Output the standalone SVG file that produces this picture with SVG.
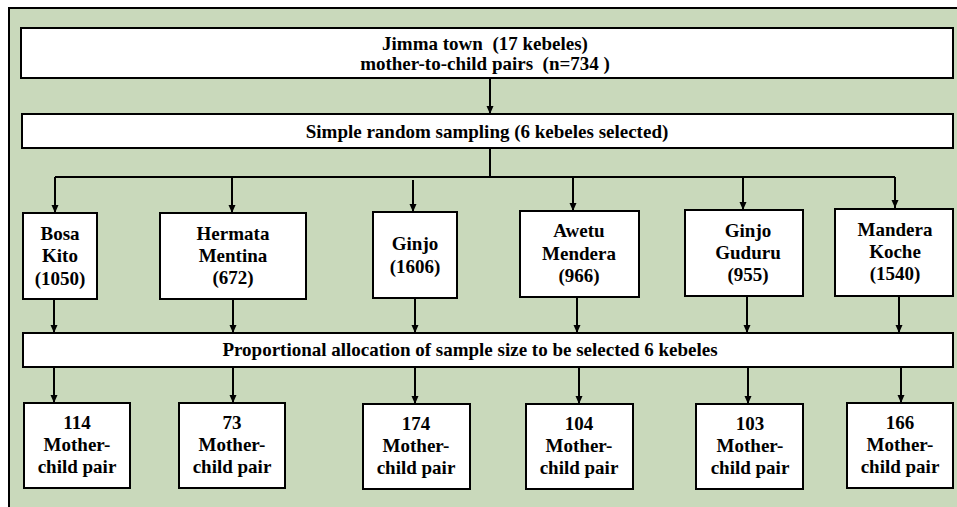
<svg xmlns="http://www.w3.org/2000/svg" width="957" height="507" viewBox="0 0 957 507">
<defs>
<marker id="ah" viewBox="0 0 8 8" refX="8" refY="4" markerWidth="8" markerHeight="8" markerUnits="userSpaceOnUse" orient="auto">
<path d="M0,0.5 L8,4 L0,7.5 Z" fill="#000"/>
</marker>
<style>
.box{fill:#fff;stroke:#000;stroke-width:2}
.t{font-family:"Liberation Serif","Times New Roman",serif;font-weight:bold;font-size:19px;fill:#000;text-anchor:middle}
.c{fill:none;stroke:#000;stroke-width:2}
.a{fill:none;stroke:#000;stroke-width:2;marker-end:url(#ah)}
</style>
</defs>
<rect x="0" y="0" width="957" height="507" fill="#fff"/>
<rect x="9" y="8" width="950" height="505" fill="#c9d9bb"/>
<path d="M9,507 V8 H957" fill="none" stroke="#000" stroke-width="2"/>

<g id="connectors">
<line class="a" x1="490" y1="79" x2="490" y2="114"/>
<path class="c" d="M490,148 V177 M55,177 H895"/>
<line class="a" x1="55" y1="177" x2="55" y2="213"/>
<line class="a" x1="232" y1="177" x2="232" y2="213"/>
<line class="a" x1="413" y1="180" x2="413" y2="212"/>
<line class="a" x1="573" y1="177" x2="573" y2="211"/>
<line class="a" x1="743" y1="177" x2="743" y2="210"/>
<line class="a" x1="895" y1="177" x2="895" y2="208"/>
<line class="a" x1="54" y1="299" x2="54" y2="333"/>
<line class="a" x1="233" y1="299" x2="233" y2="333"/>
<line class="a" x1="415" y1="298" x2="415" y2="333"/>
<line class="a" x1="577" y1="297" x2="577" y2="333"/>
<line class="a" x1="747" y1="296" x2="747" y2="333"/>
<line class="a" x1="899" y1="296" x2="899" y2="333"/>
<line class="a" x1="54" y1="367" x2="54" y2="403"/>
<line class="a" x1="233" y1="367" x2="233" y2="403"/>
<line class="a" x1="415" y1="367" x2="415" y2="404"/>
<line class="a" x1="579" y1="367" x2="579" y2="404"/>
<line class="a" x1="748" y1="367" x2="748" y2="404"/>
<line class="a" x1="901" y1="367" x2="901" y2="403"/>
</g>

<g id="n-top">
<rect class="box" x="21" y="28" width="932" height="50"/>
<text class="t" x="485" y="50">Jimma town&#160; (17 kebeles)</text>
<text class="t" x="485" y="70">mother-to-child pairs&#160; (n=734 )</text>
</g>
<g id="n-srs">
<rect class="box" x="22" y="114" width="931" height="34"/>
<text class="t" x="487" y="138">Simple random sampling (6 kebeles selected)</text>
</g>

<g id="n-bosa">
<rect class="box" x="23" y="213" width="74" height="86"/>
<text class="t" x="60" y="240">Bosa</text>
<text class="t" x="60" y="262">Kito</text>
<text class="t" x="60" y="285">(1050)</text>
</g>
<g id="n-hermata">
<rect class="box" x="160" y="213" width="146" height="86"/>
<text class="t" x="233" y="240">Hermata</text>
<text class="t" x="233" y="262">Mentina</text>
<text class="t" x="233" y="284">(672)</text>
</g>
<g id="n-ginjo">
<rect class="box" x="373" y="212" width="84" height="86"/>
<text class="t" x="415" y="250">Ginjo</text>
<text class="t" x="415" y="273">(1606)</text>
</g>
<g id="n-awetu">
<rect class="box" x="520" y="211" width="119" height="86"/>
<text class="t" x="579" y="237">Awetu</text>
<text class="t" x="579" y="260">Mendera</text>
<text class="t" x="579" y="282">(966)</text>
</g>
<g id="n-ginjoguduru">
<rect class="box" x="685" y="210" width="118" height="86"/>
<text class="t" x="748" y="237">Ginjo</text>
<text class="t" x="748" y="259">Guduru</text>
<text class="t" x="748" y="281">(955)</text>
</g>
<g id="n-mandera">
<rect class="box" x="835" y="209" width="118" height="87"/>
<text class="t" x="895" y="236">Mandera</text>
<text class="t" x="895" y="258">Koche</text>
<text class="t" x="895" y="280">(1540)</text>
</g>

<g id="n-prop">
<rect class="box" x="23" y="333" width="930" height="34"/>
<text class="t" x="470" y="356">Proportional allocation of sample size to be selected 6 kebeles</text>
</g>

<g id="n-114">
<rect class="box" x="24" y="403" width="106" height="85"/>
<text class="t" x="77" y="429">114</text>
<text class="t" x="77" y="451">Mother-</text>
<text class="t" x="77" y="473">child pair</text>
</g>
<g id="n-73">
<rect class="box" x="179" y="403" width="106" height="85"/>
<text class="t" x="232" y="429">73</text>
<text class="t" x="232" y="451">Mother-</text>
<text class="t" x="232" y="473">child pair</text>
</g>
<g id="n-174">
<rect class="box" x="363" y="404" width="107" height="85"/>
<text class="t" x="416" y="430">174</text>
<text class="t" x="416" y="452">Mother-</text>
<text class="t" x="416" y="474">child pair</text>
</g>
<g id="n-104">
<rect class="box" x="526" y="404" width="107" height="85"/>
<text class="t" x="579" y="430">104</text>
<text class="t" x="579" y="452">Mother-</text>
<text class="t" x="579" y="474">child pair</text>
</g>
<g id="n-103">
<rect class="box" x="696" y="404" width="107" height="85"/>
<text class="t" x="750" y="430">103</text>
<text class="t" x="750" y="452">Mother-</text>
<text class="t" x="750" y="474">child pair</text>
</g>
<g id="n-166">
<rect class="box" x="847" y="403" width="106" height="85"/>
<text class="t" x="900" y="429">166</text>
<text class="t" x="900" y="451">Mother-</text>
<text class="t" x="900" y="473">child pair</text>
</g>
</svg>
